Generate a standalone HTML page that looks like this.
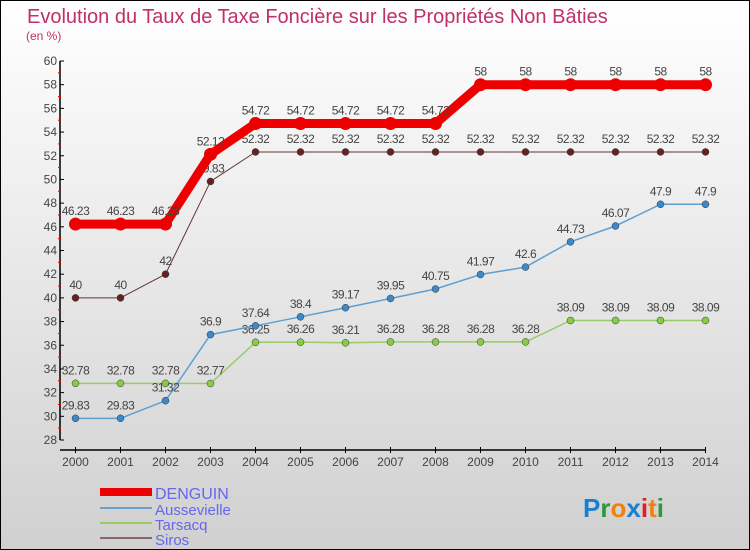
<!DOCTYPE html>
<html><head><meta charset="utf-8"><style>
body{margin:0;width:750px;height:550px;overflow:hidden}
svg{display:block;font-family:"Liberation Sans",sans-serif}
</style></head><body>
<svg id="c" width="750" height="550" viewBox="0 0 750 550">
<defs><linearGradient id="bg" x1="0" y1="0" x2="0" y2="1"><stop offset="0" stop-color="#ffffff"/><stop offset="1" stop-color="#d0d0d0"/></linearGradient></defs>
<rect x="0.5" y="0.5" width="749" height="549" fill="url(#bg)" stroke="#000"/>
<text x="27" y="23" font-size="20" fill="#c0306a">Evolution du Taux de Taxe Foncière sur les Propriétés Non Bâties</text>
<text x="26" y="40" font-size="12" fill="#c0306a">(en %)</text>
<g id="axes"></g><g id="series"></g>
<g>
<rect x="100" y="488" width="52" height="8" fill="#ee0000"/>
<text x="155" y="499" font-size="16" fill="#6666ee">DENGUIN</text>
<line x1="100" x2="152" y1="508" y2="508" stroke="#6aa0cc" stroke-width="2"/>
<text x="155" y="515" font-size="15" fill="#6666ee">Aussevielle</text>
<line x1="100" x2="152" y1="523" y2="523" stroke="#99cc66" stroke-width="2"/>
<text x="155" y="530" font-size="15" fill="#6666ee">Tarsacq</text>
<line x1="100" x2="152" y1="538" y2="538" stroke="#886666" stroke-width="2"/>
<text x="155" y="545" font-size="15" fill="#6666ee">Siros</text>
</g>
<g font-size="26" font-weight="bold">
<text x="583" y="517"><tspan fill="#1a7fd0">P</tspan><tspan fill="#2a9a3a">r</tspan><tspan fill="#f08010">o</tspan><tspan fill="#1a7fd0">x</tspan><tspan fill="#e02020">i</tspan><tspan fill="#f08010">t</tspan><tspan fill="#2a9a3a">i</tspan></text>
</g>
</svg>
<script>
const years=[2000,2001,2002,2003,2004,2005,2006,2007,2008,2009,2010,2011,2012,2013,2014];
const denguin=[46.23,46.23,46.23,52.12,54.72,54.72,54.72,54.72,54.72,58,58,58,58,58,58];
const aussevielle=[29.83,29.83,31.32,36.9,37.64,38.4,39.17,39.95,40.75,41.97,42.6,44.73,46.07,47.9,47.9];
const tarsacq=[32.78,32.78,32.78,32.77,36.25,36.26,36.21,36.28,36.28,36.28,36.28,38.09,38.09,38.09,38.09];
const siros=[40,40,42,49.83,52.32,52.32,52.32,52.32,52.32,52.32,52.32,52.32,52.32,52.32,52.32];
const yTicks=[28,30,32,34,36,38,40,42,44,46,48,50,52,54,56,58,60];
const NS='http://www.w3.org/2000/svg';
const X=i=>75.5+i*45;
const Y=v=>61+(60-v)*(379/32);
function mk(t,a,p){const e=document.createElementNS(NS,t);for(const k in a)e.setAttribute(k,a[k]);p.appendChild(e);return e;}
const ax=document.getElementById('axes');
let l=mk('line',{x1:60,x2:60,y1:Y(60),y2:Y(28),stroke:'#000','stroke-width':1.5},ax);


l=mk('line',{x1:60,x2:706,y1:450,y2:450,stroke:'#000','stroke-width':1.5},ax);


yTicks.forEach(v=>{
 mk('line',{x1:60,x2:64,y1:Y(v),y2:Y(v),stroke:'#000'},ax);
 if(v<60)mk('line',{x1:58,x2:61,y1:Y(v+1),y2:Y(v+1),stroke:'#e00'},ax);
 const t=mk('text',{x:57,y:Y(v)+4,'text-anchor':'end','font-size':12,fill:'#444'},ax);t.textContent=v;
 
 
});
years.forEach((y,i)=>{
 mk('line',{x1:X(i),x2:X(i),y1:447,y2:453,stroke:'#000'},ax);
 const t=mk('text',{x:X(i),y:466,'text-anchor':'middle','font-size':12,fill:'#444'},ax);t.textContent=y;
 
 
});
const sg=document.getElementById('series');
function draw(name,data,color,w,r,dot){
 const g=mk('g',{},sg);
 
 
 const pts=data.map((v,i)=>X(i)+','+Y(v)).join(' ');
 mk('polyline',{points:pts,fill:'none',stroke:color,'stroke-width':w,'stroke-linejoin':'round'},g);
 data.forEach((v,i)=>{
  const c=mk('circle',{cx:X(i),cy:Y(v),r:r,fill:dot,stroke:dot==color?'none':'#333','stroke-width':0.5},g);
  
  
  const t=mk('text',{x:X(i),y:Y(v)-9,'text-anchor':'middle','font-size':12,fill:'#444','letter-spacing':'-0.5'},g);
  t.textContent=String(v).replace('.','.');
  
  
 });
}
draw('siros',siros,'#663333',1,3.5,'#662222');
draw('tarsacq',tarsacq,'#99cc66',1.5,3.5,'#88cc44');
draw('aussevielle',aussevielle,'#5f9fd0',1.5,3.5,'#3f88c8');
draw('denguin',denguin,'#ee0000',9,6.5,'#ee0000');
</script>
</body></html>
